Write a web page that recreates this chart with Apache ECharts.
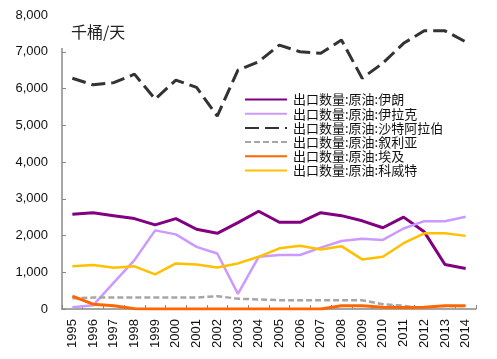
<!DOCTYPE html>
<html><head><meta charset="utf-8">
<script src="https://cdn.jsdelivr.net/npm/echarts@6/dist/echarts.min.js"></script>
<style>html,body{margin:0;padding:0;background:#fff}#c{width:497px;height:359px}</style>
</head><body><div id="c"></div>
<script>
var years = ['1995','1996','1997','1998','1999','2000','2001','2002','2003','2004','2005','2006','2007','2008','2009','2010','2011','2012','2013','2014'];
var iran   = [2580,2620,2540,2460,2290,2460,2170,2060,2350,2660,2360,2360,2620,2540,2400,2210,2500,2100,1210,1100];
var iraq   = [50,100,720,1330,2140,2030,1690,1510,410,1420,1470,1470,1670,1850,1910,1880,2190,2390,2390,2510];
var saudi  = [6280,6100,6160,6390,5710,6230,6030,5250,6500,6730,7180,7000,6960,7320,6280,6690,7230,7570,7570,7270];
var syria  = [290,310,310,310,310,310,310,350,280,260,240,240,240,240,240,130,90,0,0,0];
var egypt  = [350,130,90,10,0,0,0,0,0,0,0,0,0,90,90,50,40,50,90,90];
var kuwait = [1160,1200,1120,1160,940,1240,1210,1130,1240,1420,1650,1720,1620,1710,1350,1420,1790,2060,2060,1990];
var names = ['出口数量:原油:伊朗','出口数量:原油:伊拉克','出口数量:原油:沙特阿拉伯','出口数量:原油:叙利亚','出口数量:原油:埃及','出口数量:原油:科威特'];
var yTicks = [0,1000,2000,3000,4000,5000,6000,7000,8000];

var chart = echarts.init(document.getElementById('c'));
function mk(name, data, color, width, type) {
  return {name:name, type:'line', data:data, symbol:'none', smooth:false,
    lineStyle:{color:color, width:width, type:type}, itemStyle:{color:color}, z: 2};
}
chart.setOption({
  animation:false,
  textStyle:{fontFamily:'Liberation Sans, Arial, sans-serif'},
  title:{text:'千桶/天', left:66, top:19, textStyle:{fontSize:16, fontWeight:'normal', color:'#222', fontFamily:'Noto Sans CJK SC'}},
  grid:{left:62, right:21, top:15, bottom:50},
  legend:{orient:'vertical', left:239, top:88, itemWidth:42, itemHeight:14, itemGap:1.2,
    itemStyle:{opacity:0},
    lineStyle:{width:2},
    textStyle:{fontSize:13, color:'#111', fontFamily:'Noto Sans CJK SC', padding:[0,0,0,1]},
    data:names},
  xAxis:{type:'category', data:years, boundaryGap:true,
    axisLine:{lineStyle:{color:'#888', width:1.5}},
    axisTick:{show:true, inside:true, length:4, lineStyle:{color:'#888'}},
    axisLabel:{rotate:90, fontSize:13, color:'#111', margin:10, interval:0}},
  yAxis:{type:'value', min:0, max:8000, interval:1000,
    axisLine:{show:true, lineStyle:{color:'#888', width:1.5}},
    axisTick:{show:true, inside:true, length:4, lineStyle:{color:'#888'}},
    splitLine:{show:false},
    axisLabel:{fontSize:13, color:'#111', margin:14, formatter:function(v){return yTicks.indexOf(v)>=0 ? v.toLocaleString('en-US') : '';}}},
  graphic:[{type:'rect', shape:{x:55, y:8, width:12, height:40}, style:{fill:'#fff'}, z:100}],
  series:[
    mk(names[0], iran, '#800080', 3, 'solid'),
    mk(names[1], iraq, '#CC99FF', 2.5, 'solid'),
    mk(names[2], saudi, '#333333', 3, [14,6]),
    mk(names[3], syria, '#A6A6A6', 2.5, [6,3]),
    mk(names[4], egypt, '#FF6600', 3, 'solid'),
    mk(names[5], kuwait, '#FFC000', 2.5, 'solid')
  ]
});
</script></body></html>
